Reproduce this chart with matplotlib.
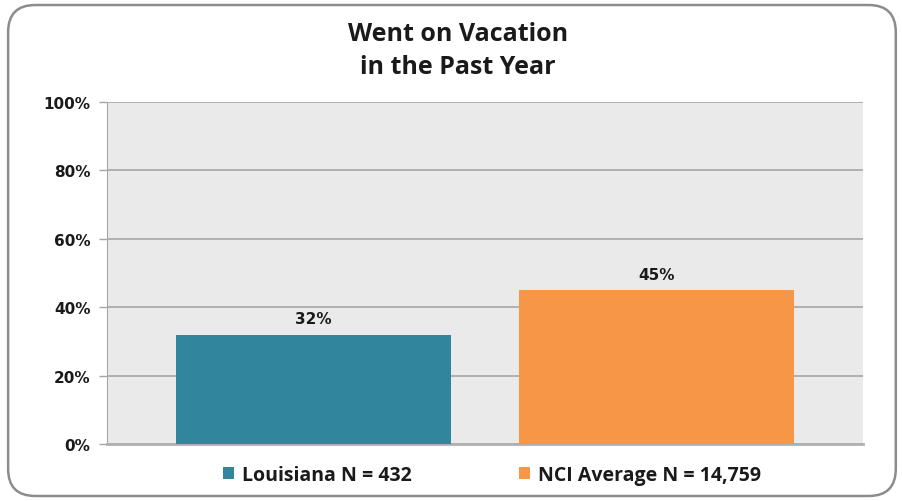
import matplotlib.pyplot as plt
from matplotlib.patches import FancyBboxPatch

plt.rcParams['font.family'] = ['Open Sans', 'DejaVu Sans']

series = ['Louisiana N = 432', 'NCI Average N = 14,759']
values = [32, 45]
colors = ['#31859C', '#F79646']
yticks = [0, 20, 40, 60, 80, 100]

fig = plt.figure(figsize=(9.03, 5.02), dpi=100)

# rounded frame around the whole chart
frame = FancyBboxPatch((0.009, 0.01), 0.983, 0.978,
                       boxstyle='round,pad=0,rounding_size=0.03',
                       transform=fig.transFigure, facecolor='none',
                       edgecolor='#8C8C8C', linewidth=1.8, zorder=5,
                       mutation_aspect=903 / 502)
fig.patches.append(frame)

ax = fig.add_axes([0.1185, 0.1135, 0.8372, 0.6813])
ax.set_facecolor('#EAEAEA')

x = [0, 1]
bars = ax.bar(x, values, width=0.8, color=colors, zorder=3, label=series)
for xi, v in zip(x, values):
    ax.text(xi, v + 2.5, f'{v}%', ha='center', va='bottom',
            fontsize=11, fontweight='bold', color='#1A1A1A',
            family='DejaVu Sans')

ax.set_xlim(-0.6, 1.6)
ax.set_ylim(0, 100)
ax.set_yticks(yticks)
ax.set_yticklabels([f'{t}%' for t in yticks], fontsize=11, fontweight='bold',
                   family='DejaVu Sans')
ax.set_xticks([])
ax.yaxis.grid(True, color='#A6A6A6', linewidth=1.2, zorder=1)
ax.set_axisbelow(True)
ax.tick_params(axis='y', length=6, width=1, color='#A6A6A6', pad=6,
               labelcolor='#1A1A1A')
for side in ['top', 'right']:
    ax.spines[side].set_visible(False)
ax.spines['left'].set_color('#A6A6A6')
ax.spines['bottom'].set_color('#B0B0B0')
ax.spines['bottom'].set_linewidth(2)

fig.text(0.507, 0.899, 'Went on Vacation\nin the Past Year', ha='center',
         va='center', fontsize=18, fontweight='bold', linespacing=1.42,
         color='#1A1A1A')

leg = fig.legend(handles=bars.patches, labels=series, loc='center',
                 bbox_to_anchor=(0.545, 0.052), ncol=2, frameon=False,
                 prop={'size': 14, 'weight': 'bold'}, handlelength=0.55,
                 handleheight=0.55, handletextpad=0.45, columnspacing=5.5)
for t in leg.get_texts():
    t.set_color('#1A1A1A')

fig.savefig('out.png', dpi=100)
